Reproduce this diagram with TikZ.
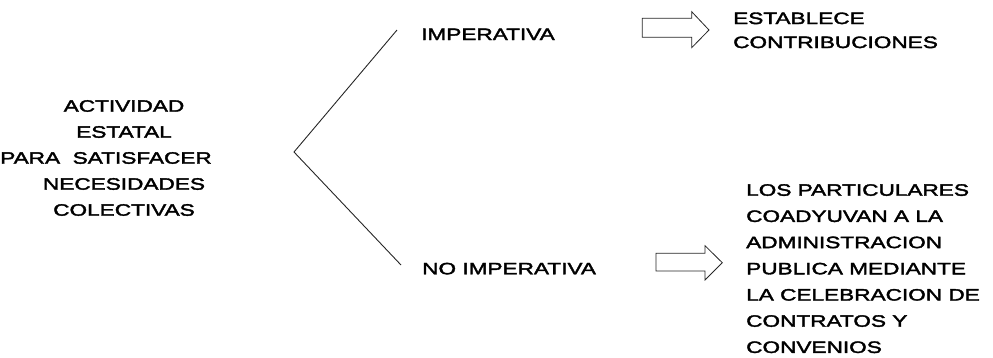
\documentclass[tikz,border=0pt]{standalone}
\usepackage{fontspec}
\setmainfont{Liberation Sans}[FakeStretch=1.37,FakeBold=2.2]
\begin{document}
\begin{tikzpicture}[x=1pt,y=-1pt,
  txt/.style={inner sep=0pt, font=\fontsize{16.5}{26}\selectfont},
  branch/.style={draw=black!85, line width=0.9pt},
  blockarrow/.style={draw=black!85, line width=0.8pt, fill=white, line join=miter}]
\useasboundingbox (0,0) rectangle (993,357);

\node[txt, align=center, anchor=center] (act) at (124,158)
  {ACTIVIDAD\\ESTATAL\\\hbox{PARA~~SATISFACER\kern36pt}\\NECESIDADES\\COLECTIVAS};

\node[txt, anchor=base west] (imp) at (421,40) {IMPERATIVA};
\node[txt, anchor=base west] (noimp) at (422,274.3) {NO IMPERATIVA};

\coordinate (v) at (294,152);
\coordinate (t) at (397,30);
\coordinate (b) at (401,265);
\draw[branch] (t) -- (v) -- (b);

\node[txt, align=left, anchor=north west, font=\fontsize{16.5}{24}\selectfont] (est) at (733,12.3)
  {ESTABLECE\\CONTRIBUCIONES};

\node[txt, align=left, anchor=north west, font=\fontsize{16.5}{26.2}\selectfont] (part) at (746,184)
  {LOS PARTICULARES\\COADYUVAN A LA\\ADMINISTRACION\\PUBLICA MEDIANTE\\LA CELEBRACION DE\\CONTRATOS Y\\CONVENIOS};

\draw[blockarrow] (642.3,18.3) -- (691.7,18.3) -- (691.7,11.7) -- (709,30)
  -- (691.7,47.7) -- (691.7,37.3) -- (642.3,37.3) -- cycle;
\draw[blockarrow] (656,253.3) -- (705,253.3) -- (705,245.7) -- (722.3,262.7)
  -- (705,280) -- (705,271) -- (656,271) -- cycle;
\end{tikzpicture}
\end{document}
